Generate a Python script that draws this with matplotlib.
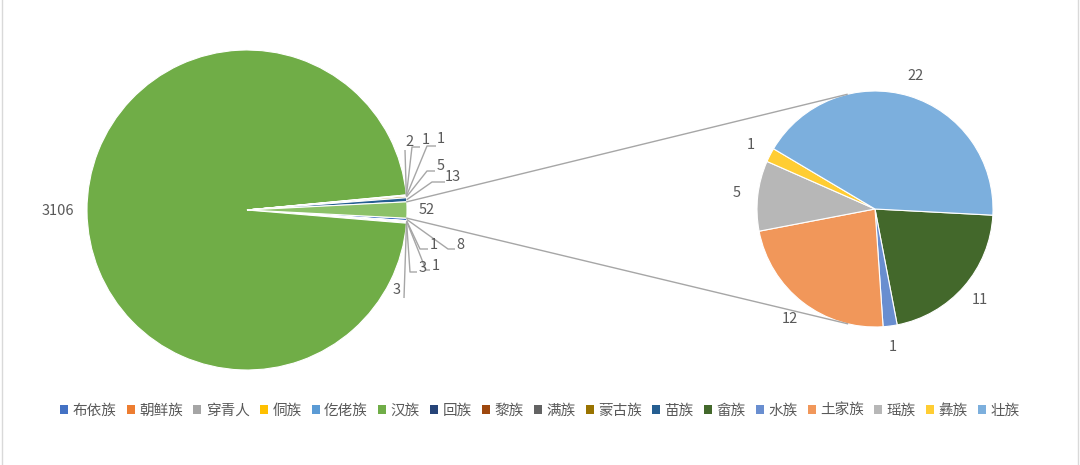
import matplotlib
matplotlib.use('Agg')
import matplotlib.pyplot as plt
from matplotlib.patches import Patch
import numpy as np

plt.rcParams['font.family'] = ['Noto Sans CJK SC', 'DejaVu Sans']

# ---------------- data ----------------
categories = ['布依族', '朝鲜族', '穿青人', '侗族', '仡佬族', '汉族', '回族', '黎族',
              '满族', '蒙古族', '苗族', '畲族', '水族', '土家族', '瑶族', '彝族', '壮族']
values = [8, 1, 1, 3, 3, 3106, 2, 1, 1, 5, 13, 11, 1, 12, 5, 1, 22]
n_main = 11          # first 11 categories in the main pie, rest grouped into "other"

# ---------------- style ----------------
colors = ['#4472C4', '#ED7D31', '#A5A5A5', '#FFC000', '#5B9BD5', '#70AD47', '#264478',
          '#9E480E', '#636363', '#997300', '#255E91', '#43682B', '#698ED0', '#F1975A',
          '#B7B7B7', '#FFCD33', '#7CAFDD']
other_color = '#8CC168'
text_color = '#595959'
line_color = '#A6A6A6'
num_fs = 10.5

W, H = 1080, 465
main_center = (247, H - 210)
main_r = 160
sec_center = (875, H - 209)
sec_r = 118

# label layout for tiny slices (image pixels): text pos, elbow, horizontal end
small_layout = {
    '布依族': ((460, 245), (448, 249), (455, 249)),
    '朝鲜族': ((434, 245), (420, 249), (428, 249)),
    '穿青人': ((436, 266), (426, 270), (430, 270)),
    '侗族':   ((423, 268), (410, 272), (417, 272)),
    '仡佬族': ((397, 290), (404, 298), (404, 298)),
    '回族':   ((410, 142), (405, 150), (405, 150)),
    '黎族':   ((426, 140), (412, 147), (420, 147)),
    '满族':   ((441, 139), (427, 146), (436, 146)),
    '蒙古族': ((441, 166), (427, 171), (435, 171)),
    '苗族':   ((453, 177), (432, 182), (445, 182)),
}

fig = plt.figure(figsize=(W / 100, H / 100), dpi=100)
ax = fig.add_axes([0, 0, 1, 1])

main_vals = values[:n_main] + [sum(values[n_main:])]
main_cols = colors[:n_main] + [other_color]
sec_vals = values[n_main:]
sec_cols = colors[n_main:]

other_ang = 360.0 * main_vals[-1] / sum(main_vals)
wprops = dict(edgecolor='white', linewidth=0.8)

mw, _ = ax.pie(main_vals, colors=main_cols, center=main_center, radius=main_r,
               startangle=-other_ang / 2, counterclock=False, wedgeprops=wprops, frame=True)
sw, _ = ax.pie(sec_vals, colors=sec_cols, center=sec_center, radius=sec_r,
               startangle=-3, counterclock=False, wedgeprops=wprops, frame=True)

def pt(center, r, ang):
    a = np.deg2rad(ang)
    return center[0] + r * np.cos(a), center[1] + r * np.sin(a)

# main pie labels
main_labels = categories[:n_main] + ['其他']
for w, lab, v in zip(mw, main_labels, main_vals):
    mid = (w.theta1 + w.theta2) / 2
    if lab in small_layout:
        (tx, ty), (ex, ey), (hx, hy) = small_layout[lab]
        sx, sy = pt(main_center, main_r, mid)
        ax.plot([sx, ex, hx], [sy, H - ey, H - hy], color=line_color, lw=1, solid_capstyle='butt')
        ax.text(tx, H - ty, str(v), ha='center', va='center', fontsize=num_fs, color=text_color)
    else:
        dist = 1.18 if lab == '汉族' else 1.125
        x, y = pt(main_center, main_r * dist, mid)
        ax.text(x, y, str(v), ha='center', va='center', fontsize=num_fs, color=text_color)

# secondary pie labels
for w, v in zip(sw, sec_vals):
    mid = (w.theta1 + w.theta2) / 2
    x, y = pt(sec_center, sec_r * 1.18, mid)
    ax.text(x, y, str(v), ha='center', va='center', fontsize=num_fs, color=text_color)

# connector lines: from edges of "other" wedge, tangent to secondary pie
ow = mw[-1]
cx, cy = sec_center
for ang, pick in ((ow.theta2, max), (ow.theta1, min)):
    px, py = pt(main_center, main_r, ang)
    d = np.hypot(px - cx, py - cy)
    phi = np.arctan2(py - cy, px - cx)
    alpha = np.arccos(sec_r / d)
    cands = [(cx + sec_r * np.cos(phi + s * alpha), cy + sec_r * np.sin(phi + s * alpha)) for s in (1, -1)]
    tx, ty = pick(cands, key=lambda p: p[1])
    ax.plot([px, tx], [py, ty], color=line_color, lw=1)

# frame lines
ax.plot([1.5, 1.5], [0, H], color='#D9D9D9', lw=1)
ax.plot([W - 2.5, W - 2.5], [0, H], color='#D9D9D9', lw=1)

ax.set_xlim(0, W)
ax.set_ylim(0, H)
ax.set_aspect('equal')
ax.axis('off')

handles = [Patch(facecolor=c, edgecolor='none') for c in colors]
fig.legend(handles, categories, loc='center', bbox_to_anchor=(0.5, 1 - 411 / H), ncol=len(categories),
           frameon=False, handlelength=0.55, handleheight=0.55, handletextpad=0.3,
           columnspacing=0.7, fontsize=10.5, labelcolor=text_color)

fig.savefig('out.png', dpi=100, facecolor='white')
